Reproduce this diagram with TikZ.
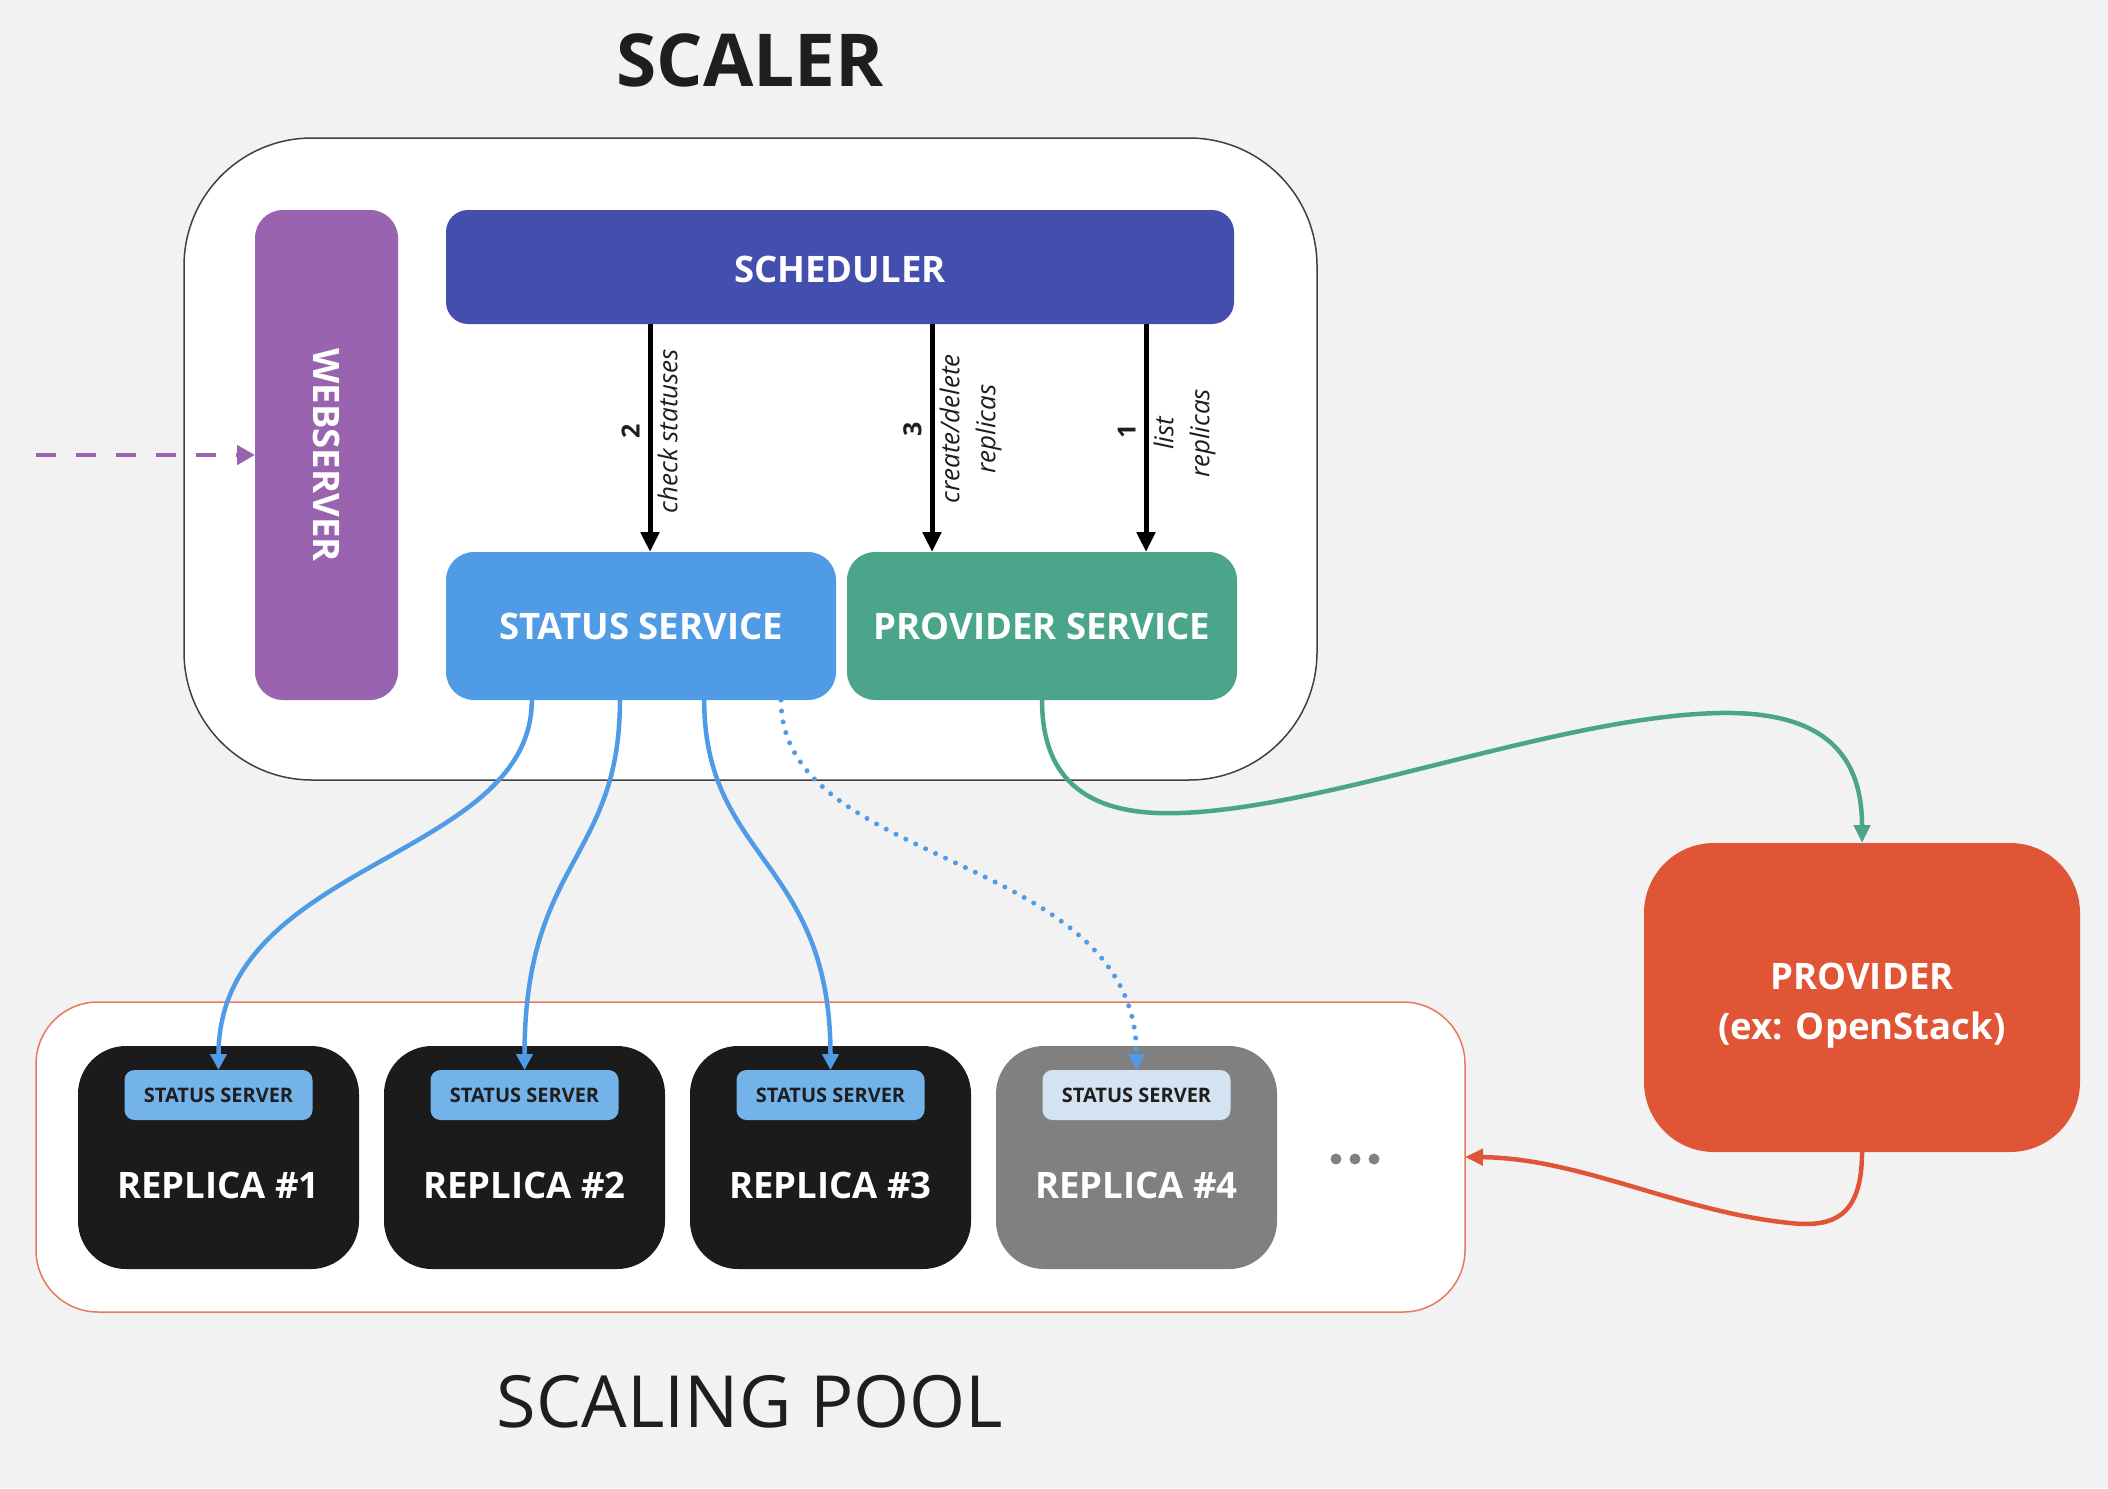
\documentclass[tikz,border=0pt]{standalone}
\usepackage{fontspec}
\setmainfont{Open Sans}
\usetikzlibrary{arrows.meta,calc}
\definecolor{bgc}{HTML}{F2F2F2}
\definecolor{schedc}{HTML}{434EAD}
\definecolor{webc}{HTML}{9963AF}
\definecolor{statc}{HTML}{4F9BE6}
\definecolor{provsc}{HTML}{4BA58A}
\definecolor{provc}{HTML}{E05535}
\definecolor{repc}{HTML}{1B1B1B}
\definecolor{rep4c}{HTML}{808080}
\definecolor{badgec}{HTML}{74B3EA}
\definecolor{badgefc}{HTML}{D3E3F2}
\definecolor{poolc}{HTML}{E8785E}
\definecolor{txtc}{HTML}{1E1E1E}
\newcommand{\dgTitle}{\fontsize{73}{80}\selectfont\bfseries}
\newcommand{\dgPool}{\fontsize{72}{80}\selectfont}
\newcommand{\dgBox}{\fontsize{36.5}{50}\selectfont\bfseries}
\newcommand{\dgBadge}{\fontsize{20}{24}\selectfont\bfseries}
\newcommand{\dgLbl}{\fontsize{26}{36}\selectfont\itshape}
\newcommand{\dgNum}{\fontsize{25}{30}\selectfont\bfseries}
\begin{document}
\begin{tikzpicture}[x=1pt,y=-1pt,
  box/.style={rectangle, inner sep=0pt, outer sep=0pt},
  svc/.style={box, rounded corners=28pt, minimum width=390pt, minimum height=148pt, text=white, font=\dgBox},
  repl/.style={box, rounded corners=48pt, minimum width=281pt, minimum height=223pt},
  badge/.style={box, rounded corners=10pt, minimum width=188pt, minimum height=50pt, text=txtc, font=\dgBadge},
  repltxt/.style={text=white, font=\dgBox, inner sep=0pt},
  blk/.style={line width=5pt, -{Triangle[width=18pt,length=20pt]}},
  lblnum/.style={rotate=90, font=\dgNum, text=txtc, inner sep=8pt},
  lbltxt/.style={rotate=90, font=\dgLbl, text=txtc, align=center, inner sep=5pt},
  bluearr/.style={draw=statc, line width=4.5pt, -{Triangle[width=16pt,length=16pt]}},
  dotline/.style={line cap=round, dash pattern=on 0pt off 11pt},
  greenarr/.style={draw=provsc, line width=4.5pt, -{Triangle[width=16pt,length=18pt]}},
  redarr/.style={draw=provc, line width=4.5pt, -{Triangle[width=16pt,length=18pt]}},
  purparr/.style={draw=webc, line width=4.5pt, dash pattern=on 20pt off 20pt, -{Triangle[width=19pt,length=18pt]}},
  dot/.style={circle, fill=rep4c, minimum size=11pt, inner sep=0pt}
]
\fill[bgc] (0,0) rectangle (2108,1488);
\useasboundingbox (0,0) rectangle (2108,1488);

% title
\node[font=\dgTitle, text=txtc] (title) at (750,60) {SCALER};

% scaler container
\node[box, draw=black!75, line width=1.5pt, fill=white, rounded corners=128pt,
      minimum width=1133pt, minimum height=642pt] (scaler) at (750.5,459) {};

% webserver
\node[box, fill=webc, rounded corners=28pt, minimum width=143pt, minimum height=490pt] (web) at (326.5,455) {};
\node[rotate=-90, text=white, font=\dgBox] (webtxt) at (web.center) {WEBSERVER};

% scheduler
\node[box, fill=schedc, rounded corners=22pt, minimum width=788pt, minimum height=114pt] (sched) at (840,267) {};
\node[text=white, font=\dgBox] (schedtxt) at (840,269) {SCHEDULER};

% services
\node[svc, fill=statc] (ssvc) at (641,626) {STATUS SERVICE};
\node[svc, fill=provsc] (psvc) at (1042,626) {PROVIDER SERVICE};

% scaling pool
\node[box, draw=poolc, line width=1.5pt, fill=white, rounded corners=62pt,
      minimum width=1429pt, minimum height=310pt] (pool) at (750.5,1157) {};
\node[font=\dgPool, text=txtc] (pooltxt) at (750,1402) {SCALING POOL};

% replicas
\node[repl, fill=repc] (r1) at (218.5,1157.5) {};
\node[repl, fill=repc] (r2) at (524.5,1157.5) {};
\node[repl, fill=repc] (r3) at (830.5,1157.5) {};
\node[repl, fill=rep4c] (r4) at (1136.5,1157.5) {};
\node[badge, fill=badgec] (b1) at (218.5,1095) {STATUS SERVER};
\node[badge, fill=badgec] (b2) at (524.5,1095) {STATUS SERVER};
\node[badge, fill=badgec] (b3) at (830.5,1095) {STATUS SERVER};
\node[badge, fill=badgefc] (b4) at (1136.5,1095) {STATUS SERVER};
\node[repltxt] (r1t) at (218.5,1185) {REPLICA \#1};
\node[repltxt] (r2t) at (524.5,1185) {REPLICA \#2};
\node[repltxt] (r3t) at (830.5,1185) {REPLICA \#3};
\node[repltxt] (r4t) at (1136.5,1185) {REPLICA \#4};
\node[dot] (d1) at (1336,1159) {};
\node[dot] (d2) at (1355,1159) {};
\node[dot] (d3) at (1374,1159) {};

% provider
\node[box, fill=provc, rounded corners=70pt, minimum width=436pt, minimum height=309pt] (prov) at (1862,997.5) {};
\node[text=white, font=\dgBox, align=center] (provtxt) at (1862,1006) {PROVIDER\\(ex: OpenStack)};

% scheduler arrows
\coordinate (ax1) at (650,0);
\coordinate (ax2) at (932,0);
\coordinate (ax3) at (1146,0);
\draw[blk] (sched.south -| ax1) -- node[pos=0.47, lblnum, anchor=south] (n2) {2}
  node[pos=0.47, lbltxt, anchor=north] (l2) {check statuses} (ssvc.north -| ax1);
\draw[blk] (sched.south -| ax2) -- node[pos=0.46, lblnum, anchor=south] (n3) {3}
  node[pos=0.46, lbltxt, anchor=north] (l3) {create/delete\\replicas} (psvc.north -| ax2);
\draw[blk] (sched.south -| ax3) -- node[pos=0.47, lblnum, anchor=south] (n1) {1}
  node[pos=0.48, lbltxt, anchor=north] (l1) {list\\replicas} (psvc.north -| ax3);

% incoming dashed arrow
\coordinate (din) at (36,455);
\draw[purparr] (din) -- (din -| web.west);

% status service to replicas
\draw[bluearr] ($(ssvc.south west)!0.22!(ssvc.south east)$) .. controls +(0,160) and +(0,-210) .. (b1.north);
\draw[bluearr] ($(ssvc.south west)!0.446!(ssvc.south east)$) .. controls +(0,160) and +(0,-210) .. (b2.north);
\draw[bluearr] ($(ssvc.south west)!0.662!(ssvc.south east)$) .. controls +(0,160) and +(0,-210) .. (b3.north);
\draw[bluearr, line width=5pt, dotline] ($(ssvc.south west)!0.859!(ssvc.south east)$) .. controls +(0,170) and +(0,-220) .. (b4.north);

% provider service to provider
\coordinate (g1) at (1180,813);
\coordinate (g2) at (1720,713);
\draw[greenarr] (psvc.south) .. controls +(0,90) and +(-80,3) .. (g1)
  .. controls +(150,-5) and +(-160,3) .. (g2)
  .. controls +(110,-2) and +(0,-83) .. (prov.north);

% provider to pool
\coordinate (rd1) at (1790,1223);
\draw[redarr] (prov.south) .. controls +(0,63) and +(45,5) .. (rd1)
  .. controls +(-110,-11) and +(115,1) .. (pool.east);
\end{tikzpicture}
\end{document}
